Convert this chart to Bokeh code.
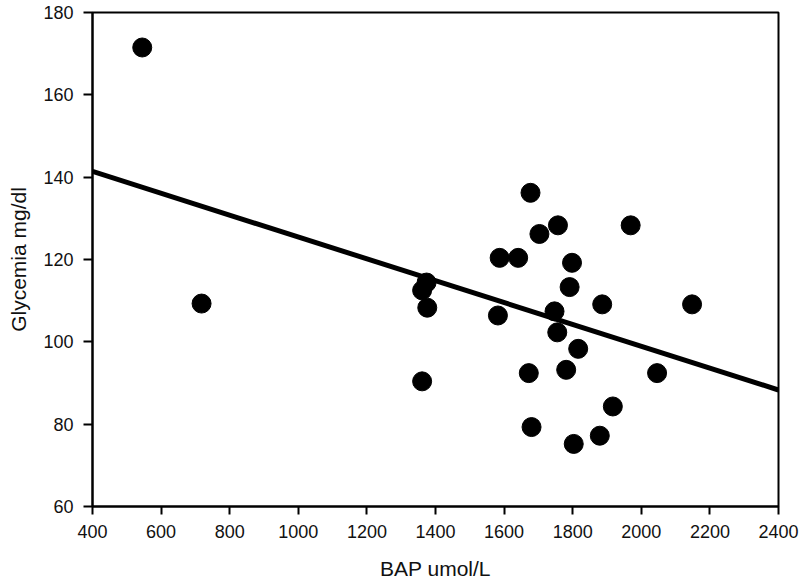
from bokeh.plotting import figure
from bokeh.models import ColumnDataSource, FixedTicker, Range1d
from bokeh.embed import file_html
from bokeh.resources import INLINE

# Data
bap = [545, 718, 1374, 1361, 1376, 1361, 1587, 1641, 1677, 1703, 1582, 1672,
       1680, 1757, 1798, 1791, 1969, 1747, 1886, 2148, 1755, 1816, 1781, 2046,
       1917, 1879, 1803]
glycemia = [171.5, 109.3, 114.4, 112.5, 108.3, 90.4, 120.4, 120.4, 136.2, 126.2,
            106.4, 92.4, 79.3, 128.3, 119.2, 113.3, 128.3, 107.4, 109.1, 109.1,
            102.3, 98.3, 93.2, 92.4, 84.3, 77.2, 75.2]

# regression line end points
fit_x = [400, 2400]
fit_y = [141.4, 88.3]

x_ticks = [400, 600, 800, 1000, 1200, 1400, 1600, 1800, 2000, 2200, 2400]
y_ticks = [60, 80, 100, 120, 140, 160, 180]

FONT = "Liberation Sans"

p = figure(width=800, height=585, output_backend="svg", toolbar_location=None,
           x_range=Range1d(400, 2400), y_range=Range1d(60, 180),
           min_border_left=92, min_border_right=22, min_border_top=12,
           min_border_bottom=79)

p.background_fill_color = "white"
p.border_fill_color = "white"
p.outline_line_color = "black"
p.outline_line_width = 2
p.xgrid.visible = False
p.ygrid.visible = False

p.line(fit_x, fit_y, line_color="black", line_width=5)
src = ColumnDataSource(dict(x=bap, y=glycemia))
p.scatter("x", "y", source=src, size=19, fill_color="black", line_color="black")

for ax in (p.xaxis[0], p.yaxis[0]):
    ax.axis_line_color = "black"
    ax.axis_line_width = 2
    ax.major_tick_line_color = "black"
    ax.major_tick_line_width = 2
    ax.major_tick_in = 0
    ax.minor_tick_line_color = None
    ax.major_label_text_font = FONT
    ax.major_label_text_font_size = "18px"
    ax.major_label_text_color = "#111111"
    ax.axis_label_text_font = FONT
    ax.axis_label_text_font_size = "21px"
    ax.axis_label_text_font_style = "normal"
    ax.axis_label_text_color = "#111111"

p.xaxis.ticker = FixedTicker(ticks=x_ticks)
p.yaxis.ticker = FixedTicker(ticks=y_ticks)
p.xaxis.axis_label = "BAP umol/L"
p.yaxis.axis_label = "Glycemia mg/dl"

p.xaxis.major_tick_out = 8
p.xaxis.major_label_standoff = 10
p.xaxis.axis_label_standoff = 16
p.yaxis.major_tick_out = 9
p.yaxis.major_label_standoff = 10
p.yaxis.axis_label_standoff = 10

open("out.html", "w").write(file_html(p, INLINE))
